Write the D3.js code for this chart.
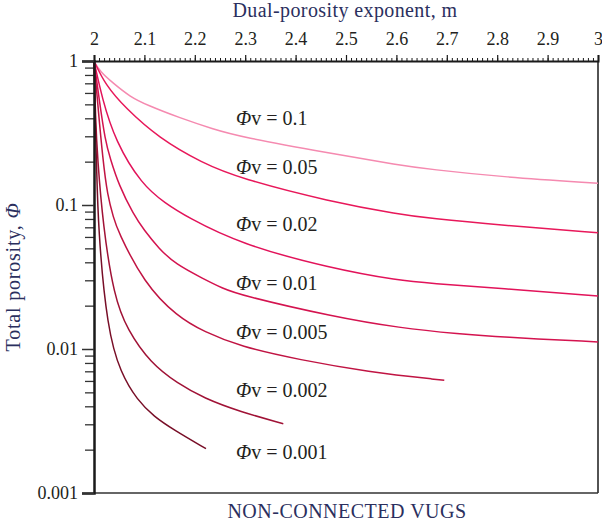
<!DOCTYPE html>
<html>
<head>
<meta charset="utf-8">
<script src="https://cdn.jsdelivr.net/npm/d3@7"></script>
<style>
  body { margin: 0; background: #fff; }
  svg { display: block; }
  text { font-family: "Liberation Serif", "DejaVu Serif", serif; }
</style>
</head>
<body>
<svg id="chart" width="602" height="526"></svg>
<script>
// ---- data ----
const xTicks = [2, 2.1, 2.2, 2.3, 2.4, 2.5, 2.6, 2.7, 2.8, 2.9, 3];
const xTickLabels = ["2", "2.1", "2.2", "2.3", "2.4", "2.5", "2.6", "2.7", "2.8", "2.9", "3"];
const yTicks = [1, 0.1, 0.01, 0.001];
const yTickLabels = ["1", "0.1", "0.01", "0.001"];

const vugLabels = ["0.1", "0.05", "0.02", "0.01", "0.005", "0.002", "0.001"];
// porosity level at which each label sits
const labelPhi = [0.402, 0.1836, 0.0738, 0.0287, 0.0131, 0.00519, 0.00193];

// [m, total porosity]
const curve_0_1 = [[2,1],[2.0119,0.843],[2.0377,0.703],[2.0714,0.565],[2.1046,0.495],[2.1706,0.402],[2.2361,0.337],[2.2897,0.298],[2.4683,0.2286],[2.6071,0.1887],[2.6667,0.177],[2.8056,0.157],[3,0.1415]];
const curve_0_05 = [[2,1],[2.0224,0.684],[2.0621,0.472],[2.1284,0.292],[2.2143,0.196],[2.2897,0.153],[2.4683,0.1055],[2.6071,0.0861],[2.6667,0.0808],[2.8056,0.0726],[3,0.0642]];
const curve_0_02 = [[2,1],[2.0159,0.553],[2.0423,0.277],[2.0952,0.138],[2.1409,0.1032],[2.1845,0.0825],[2.2897,0.0537],[2.4683,0.0364],[2.6071,0.0298],[2.6667,0.0286],[2.8056,0.0264],[3,0.0233]];
const curve_0_01 = [[2,1],[2.0099,0.553],[2.0224,0.277],[2.032,0.212],[2.049,0.138],[2.0788,0.0853],[2.0992,0.0671],[2.1284,0.050],[2.1613,0.0389],[2.2183,0.0306],[2.254,0.0265],[2.2897,0.0237],[2.4748,0.01676],[2.6071,0.01399],[2.7262,0.01271],[2.8056,0.01211],[3,0.0112]];
const curve_0_005 = [[2,1],[2.0085,0.457],[2.0173,0.212],[2.0268,0.1155],[2.0391,0.0812],[2.0462,0.0671],[2.0992,0.0286],[2.1653,0.01676],[2.2183,0.01318],[2.2897,0.0104],[2.4087,0.0084],[2.5411,0.00696],[2.695,0.00606]];
const curve_0_002 = [[2,1],[2.003,0.402],[2.0069,0.212],[2.0179,0.0716],[2.0397,0.0231],[2.0661,0.01355],[2.1125,0.00796],[2.1653,0.00578],[2.2183,0.00455],[2.2897,0.00367],[2.3756,0.00303]];
const curve_0_001 = [[2,1],[2.002,0.389],[2.005,0.212],[2.0079,0.069],[2.0264,0.01355],[2.053,0.00678],[2.0859,0.00442],[2.119,0.00339],[2.1587,0.00274],[2.2222,0.00203]];

const curves = [curve_0_1, curve_0_05, curve_0_02, curve_0_01, curve_0_005, curve_0_002, curve_0_001];

// ---- styles ----
const colors = ["#f58ab0", "#e8185a", "#e2135a", "#d4134f", "#c01443", "#a01236", "#780e27"];
const axisColor = "#1a1a1a";
const textColor = "#231f20";
const titleColor = "#2b2f5e";

const svg = d3.select("#chart");
const L = 94, R = 598, T = 61, B = 493;

const x = d3.scaleLinear().domain([2, 3]).range([L, R]);
const y = d3.scaleLog().domain([0.001, 1]).range([B, T]);

// frame: right & bottom
svg.append("line").attr("x1", R).attr("x2", R).attr("y1", T).attr("y2", B)
  .attr("stroke", axisColor).attr("stroke-width", 1.5);
svg.append("line").attr("x1", L).attr("x2", R).attr("y1", B).attr("y2", B)
  .attr("stroke", "#333").attr("stroke-width", 1.5);

// curves
const line = d3.line().x(d => x(d[0])).y(d => y(d[1])).curve(d3.curveBasis);
svg.append("g").selectAll("path").data(curves).join("path")
  .attr("d", line)
  .attr("fill", "none")
  .attr("stroke", (d, i) => colors[i])
  .attr("stroke-width", 1.5);

// top axis minor ticks
const minorX = d3.range(0, 101).map(i => 2 + i / 100);
svg.append("g").attr("transform", `translate(0,${T})`)
  .call(d3.axisTop(x).tickValues(minorX).tickSize(3).tickFormat(""))
  .call(g => g.select(".domain").remove())
  .call(g => g.selectAll("line").attr("stroke", axisColor).attr("stroke-width", 1));
// top axis major
svg.append("g").attr("transform", `translate(0,${T})`)
  .call(d3.axisTop(x).tickValues(xTicks).tickSize(6).tickPadding(10)
    .tickFormat((d, i) => xTickLabels[i]))
  .call(g => g.select(".domain").attr("stroke", axisColor).attr("stroke-width", 2))
  .call(g => g.selectAll("line").attr("stroke", axisColor).attr("stroke-width", 1.2))
  .call(g => g.selectAll("text").attr("font-size", 18).attr("fill", textColor)
    .attr("font-family", '"Liberation Serif", serif'));

// left axis minor ticks
const minorY = [];
[0.001, 0.01, 0.1].forEach(dec => { for (let k = 2; k <= 9; k++) minorY.push(dec * k); });
svg.append("g").attr("transform", `translate(${L},0)`)
  .call(d3.axisLeft(y).tickValues(minorY).tickSize(9).tickFormat(""))
  .call(g => g.select(".domain").remove())
  .call(g => g.selectAll("line").attr("stroke", "#333").attr("stroke-width", 1.3));
// left axis major
svg.append("g").attr("transform", `translate(${L},0)`)
  .call(d3.axisLeft(y).tickValues(yTicks).tickSize(12).tickPadding(4)
    .tickFormat((d, i) => yTickLabels[i]))
  .call(g => g.select(".domain").attr("stroke", axisColor).attr("stroke-width", 2.5))
  .call(g => g.selectAll("line").attr("stroke", "#333").attr("stroke-width", 1.5))
  .call(g => g.selectAll("text").attr("font-size", 18).attr("fill", textColor)
    .attr("font-family", '"Liberation Serif", serif'));

// curve labels
const lab = svg.append("g").selectAll("text").data(vugLabels).join("text")
  .attr("x", 236)
  .attr("y", (d, i) => y(labelPhi[i]))
  .attr("dy", "0.35em")
  .attr("font-size", 20)
  .attr("fill", textColor);
lab.append("tspan").attr("font-style", "italic").text("Φ");
lab.append("tspan").text(d => "v = " + d);

// titles
svg.append("text").attr("x", 345).attr("y", 17).attr("text-anchor", "middle")
  .attr("font-size", 20).attr("letter-spacing", 0.4)
  .attr("fill", titleColor).text("Dual-porosity exponent, m");
svg.append("text").attr("x", 347).attr("y", 518).attr("text-anchor", "middle")
  .attr("font-size", 20).attr("letter-spacing", 0.5)
  .attr("fill", titleColor).text("NON-CONNECTED VUGS");
const yt = svg.append("text").attr("transform", "translate(20,277) rotate(-90)")
  .attr("text-anchor", "middle").attr("font-size", 20).attr("letter-spacing", 0.8)
  .attr("fill", titleColor);
yt.append("tspan").text("Total porosity, ");
yt.append("tspan").attr("font-style", "italic").text("Φ");
</script>
</body>
</html>
